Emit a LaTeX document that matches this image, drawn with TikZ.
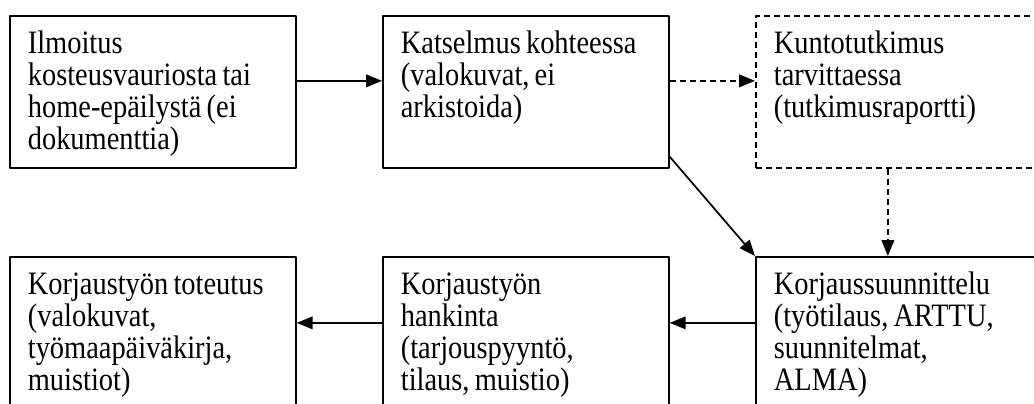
\documentclass[tikz,border=0pt]{standalone}
\usepackage{fontspec}
\setmainfont{Liberation Serif}[FakeStretch=0.87]
\usetikzlibrary{arrows.meta}
\newcommand\boxfont{\fontsize{24.5pt}{24pt}\selectfont
    \hyphenpenalty=10000 \exhyphenpenalty=10000
    \fontdimen2\font=0.16em \fontdimen3\font=0pt \fontdimen4\font=0pt\relax}
\begin{document}
\begin{tikzpicture}[>={Triangle[length=12pt,width=9.5pt]},line join=round,
    x=0.75pt,y=-0.75pt,font=\boxfont,
    box/.style={draw,line width=1.3pt,anchor=north west,align=flush left,
        text width=187.5pt,inner xsep=13.5pt,inner ysep=0pt,
        text height=28.5pt,text depth=85.5pt},
    dbox/.style={box,dash pattern=on 4.5pt off 3pt},
    link/.style={->,line width=1.3pt},
    dlink/.style={link,dash pattern=on 4.5pt off 3pt}]
    %	\draw[step=50,gray,very thin]
    %	(0,0) grid (1034,403);
    \useasboundingbox (0,0) rectangle (1034,403);
    \clip (0,0) rectangle (1034,403);
    \node[box] (ilmoitus) at (9,15)
    {Ilmoitus\\kosteusvauriosta tai\\home-epäilystä (ei\\dokumenttia)};
    \node[box] (katselmus) at (382,15)
    {Katselmus kohteessa\\(valokuvat, ei\\arkistoida)};
    \node[dbox] (kunto) at (755,15)
    {Kuntotutkimus\\tarvittaessa\\(tutkimusraportti)};
    \node[box] (suunnittelu) at (755,256)
    {Korjaussuunnittelu\\(työtilaus, ARTTU,\\suunnitelmat,\\ALMA)};
    \node[box] (hankinta) at (382,256)
    {Korjaustyön\\hankinta\\(tarjouspyyntö,\\tilaus, muistio)};
    \node[box] (toteutus) at (9,256)
    {Korjaustyön toteutus\\(valokuvat,\\työmaapäiväkirja,\\muistiot)};
    \draw[link] ([yshift=8.25pt]ilmoitus.east) -- ([yshift=8.25pt]katselmus.west);
    \draw[dlink] ([yshift=8.25pt]katselmus.east) -- ([yshift=8.25pt]kunto.west);
    \draw[dlink] ([xshift=-8.25pt]kunto.south) -- ([xshift=-8.25pt]suunnittelu.north);
    \draw[link] ([yshift=9pt]katselmus.south east) -- (suunnittelu.north west);
    \draw[link] ([yshift=7.5pt]suunnittelu.west) -- ([yshift=7.5pt]hankinta.east);
    \draw[link] ([yshift=7.5pt]hankinta.west) -- ([yshift=7.5pt]toteutus.east);
\end{tikzpicture}
\end{document}
